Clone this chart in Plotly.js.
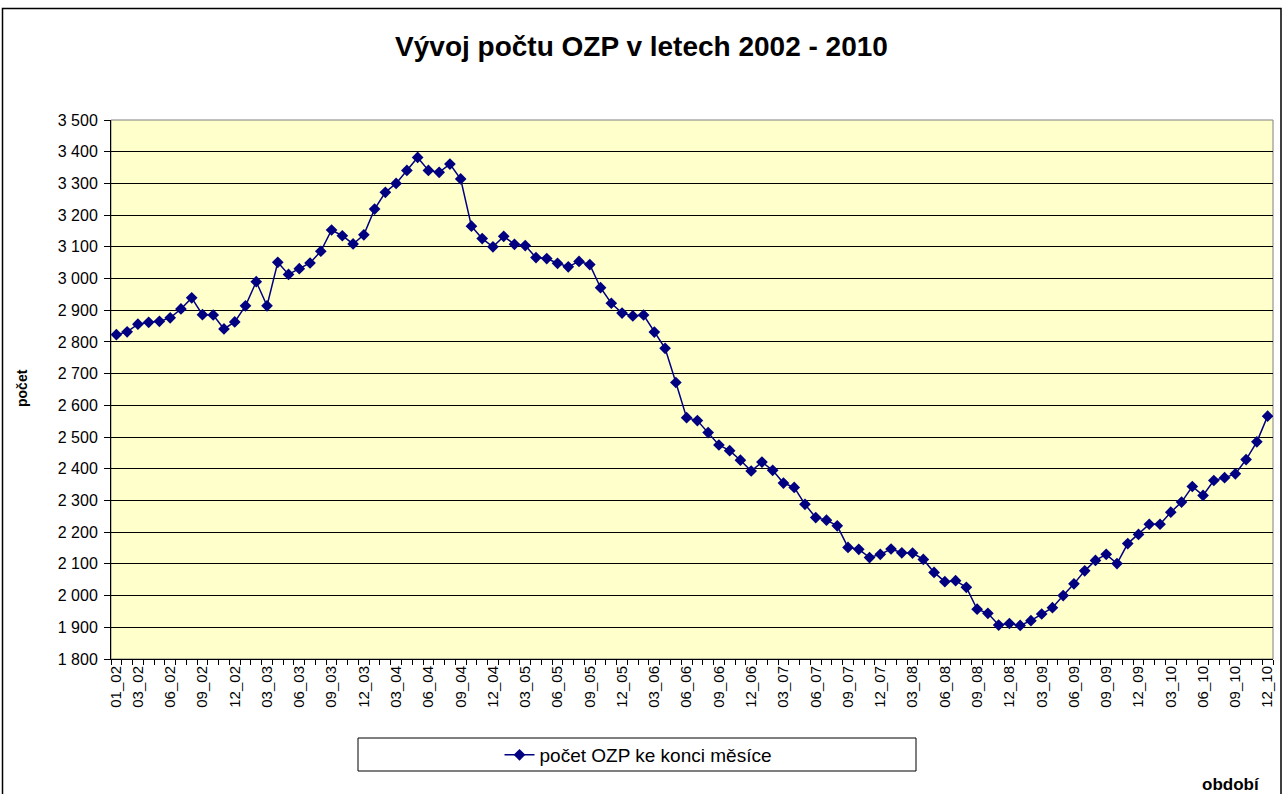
<!DOCTYPE html>
<html>
<head>
<meta charset="utf-8">
<script src="https://cdn.plot.ly/plotly-3.0.1.min.js"></script>
<style>
  html, body { margin: 0; padding: 0; background: #ffffff; }
  #chart { width: 1283px; height: 794px; }
</style>
</head>
<body>
<div id="chart"></div>
<script>
// ---- data ----
const years = ['02', '03', '04', '05', '06', '07', '08', '09', '10'];
const months = ['01', '02', '03', '04', '05', '06', '07', '08', '09', '10', '11', '12'];
const categories = [];
years.forEach(y => months.forEach(m => categories.push(m + '_' + y)));

const values2002 = [2823, 2832, 2856, 2862, 2865, 2876, 2904, 2939, 2886, 2885, 2841, 2863];
const values2003 = [2914, 2990, 2914, 3051, 3013, 3031, 3049, 3086, 3153, 3135, 3109, 3138];
const values2004 = [3219, 3272, 3300, 3341, 3382, 3341, 3335, 3361, 3314, 3165, 3126, 3100];
const values2005 = [3133, 3108, 3104, 3066, 3063, 3048, 3037, 3054, 3044, 2971, 2922, 2891];
const values2006 = [2882, 2885, 2831, 2780, 2672, 2561, 2552, 2514, 2475, 2457, 2427, 2393];
const values2007 = [2421, 2395, 2355, 2341, 2288, 2246, 2238, 2220, 2152, 2146, 2120, 2130];
const values2008 = [2147, 2135, 2134, 2114, 2073, 2044, 2047, 2026, 1957, 1944, 1907, 1912];
const values2009 = [1906, 1921, 1942, 1962, 2000, 2037, 2078, 2111, 2130, 2101, 2164, 2193];
const values2010 = [2225, 2225, 2263, 2295, 2344, 2316, 2363, 2372, 2384, 2429, 2485, 2566];
const values = [].concat(values2002, values2003, values2004, values2005, values2006,
                         values2007, values2008, values2009, values2010);

const shownTickLabels = ['01_02', '03_02', '06_02', '09_02', '12_02',
  '03_03', '06_03', '09_03', '12_03', '03_04', '06_04', '09_04', '12_04',
  '03_05', '06_05', '09_05', '12_05', '03_06', '06_06', '09_06', '12_06',
  '03_07', '06_07', '09_07', '12_07', '03_08', '06_08', '09_08', '12_08',
  '03_09', '06_09', '09_09', '12_09', '03_10', '06_10', '09_10', '12_10'];

const seriesName = 'počet OZP ke konci měsíce';
const titleText = 'Vývoj počtu OZP v letech 2002 - 2010';
const yTitle = 'počet';
const xTitle = 'období';

// ---- chart ----
const FONT = 'Liberation Sans, Arial, sans-serif';
const W = 1283, H = 794;
const L = 111, R = 10, T = 120, B = 135;
const pw = W - L - R, ph = H - T - B;
const px = x => (x - L) / pw;
const py = y => (H - B - y) / ph;

const trace = {
  x: categories,
  y: values,
  type: 'scatter',
  mode: 'lines+markers',
  name: seriesName,
  line: { color: '#000080', width: 1.5 },
  marker: { symbol: 'diamond', size: 9, color: '#000080' },
  showlegend: true
};

const layout = {
  width: W, height: H,
  margin: { l: L, r: R, t: T, b: B, pad: 0 },
  paper_bgcolor: '#ffffff',
  plot_bgcolor: '#FFFFCC',
  separators: ', ',
  font: { family: FONT, color: '#000000', size: 14 },
  title: {
    text: titleText,
    font: { family: FONT, size: 28, color: '#000000', weight: 'bold' },
    x: 0.5, xanchor: 'center', xref: 'container',
    y: 1 - 46 / H, yanchor: 'middle', yref: 'container'
  },
  xaxis: {
    type: 'category',
    range: [-0.5, categories.length - 0.5],
    tickmode: 'array',
    tickvals: categories,
    ticktext: categories.map(c => shownTickLabels.includes(c) ? c : ''),
    tickson: 'boundaries',
    ticks: 'outside', ticklen: 5, tickwidth: 1, tickcolor: '#000000',
    tickangle: -90,
    tickfont: { family: FONT, size: 15, color: '#000000' },
    showgrid: false,
    showline: true, linecolor: '#000000', linewidth: 1,
    zeroline: false,
    fixedrange: true
  },
  yaxis: {
    range: [1800, 3500],
    tickmode: 'linear', tick0: 1800, dtick: 100,
    tickformat: ',d',
    ticks: 'outside', ticklen: 6, tickwidth: 1, tickcolor: '#000000',
    ticklabelstandoff: 3,
    tickfont: { family: FONT, size: 16, color: '#000000' },
    showgrid: true, gridcolor: '#000000', gridwidth: 1,
    showline: true, linecolor: '#000000', linewidth: 1,
    zeroline: false,
    fixedrange: true
  },
  showlegend: true,
  legend: {
    x: px(638), xanchor: 'center', xref: 'paper',
    y: py(755), yanchor: 'middle', yref: 'paper',
    orientation: 'h',
    bgcolor: 'rgba(0,0,0,0)',
    borderwidth: 0,
    font: { family: FONT, size: 19, color: '#000000' }
  },
  shapes: [
    { type: 'rect', xref: 'paper', yref: 'paper', x0: 0, x1: 1, y0: 0, y1: 1,
      line: { color: '#808080', width: 1 }, layer: 'below' },
    { type: 'rect', xref: 'paper', yref: 'paper',
      x0: px(358), x1: px(916), y0: py(771), y1: py(738),
      line: { color: '#000000', width: 1 }, fillcolor: '#ffffff', layer: 'below' },
    { type: 'rect', xref: 'paper', yref: 'paper',
      x0: px(2.5), x1: px(1281), y0: py(830), y1: py(8.5),
      line: { color: '#000000', width: 1.5 }, fillcolor: 'rgba(0,0,0,0)', layer: 'above' }
  ],
  annotations: [
    { text: yTitle, xref: 'paper', yref: 'paper', x: px(22), y: py(388),
      xanchor: 'center', yanchor: 'middle', textangle: -90, showarrow: false,
      font: { family: FONT, size: 14, color: '#000000', weight: 'bold' } },
    { text: xTitle, xref: 'paper', yref: 'paper', x: px(1262), y: py(784),
      xanchor: 'right', yanchor: 'middle', showarrow: false,
      font: { family: FONT, size: 17, color: '#000000', weight: 'bold' } }
  ]
};

Plotly.newPlot('chart', [trace], layout, { displayModeBar: false, staticPlot: true });
</script>
</body>
</html>
